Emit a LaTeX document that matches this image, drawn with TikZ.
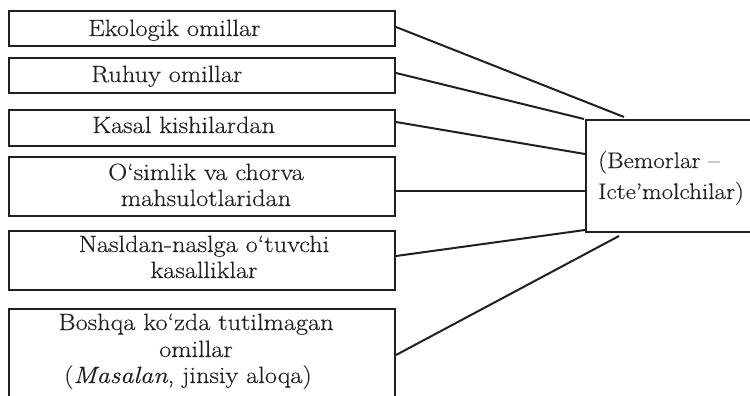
\documentclass[tikz,border=0pt]{standalone}
\usepackage{fontspec}
\setmainfont{Latin Modern Roman}[FakeStretch=1.12, FakeBold=0.4]
\definecolor{ink}{RGB}{35,31,32}
\tikzset{
  box/.style={draw=ink, line width=2pt, rectangle, inner sep=0pt},
  txt/.style={inner sep=0pt, text=ink, font=\fontsize{23.5}{27}\selectfont},
  link/.style={draw=ink, line width=2pt}
}
\begin{document}
\begin{tikzpicture}[x=1pt,y=-1pt]
\useasboundingbox (0,0) rectangle (750,396);
\clip (0,0) rectangle (750,396);

% factor boxes on the left
\node[box, minimum width=386pt, minimum height=35pt]  (b1) at (202,28.5)  {};
\node[box, minimum width=386pt, minimum height=35pt]  (b2) at (202,75.5)  {};
\node[box, minimum width=386pt, minimum height=36pt]  (b3) at (202,128)   {};
\node[box, minimum width=386pt, minimum height=59pt]  (b4) at (202,186.5) {};
\node[box, minimum width=386pt, minimum height=59pt]  (b5) at (202,260.5) {};
\node[box, minimum width=386pt, minimum height=111pt] (b6) at (202,364.5) {};

% target box on the right
\node[box, minimum width=174pt, minimum height=112pt] (r) at (673,176) {};

% labels
\node[txt, anchor=base west] (t1)  at (88,36)   {Ekologik omillar};
\node[txt, anchor=base west] (t2)  at (91,82)   {Ruhuy omillar};
\node[txt, anchor=base west] (t3)  at (92,133)  {Kasal kishilardan};
\node[txt, anchor=base]      (t4a) at (206,180) {O‘simlik va chorva};
\node[txt, anchor=base]      (t4b) at (206,206) {mahsulotlaridan};
\node[txt, anchor=base]      (t5a) at (204,252) {Nasldan-naslga o‘tuvchi};
\node[txt, anchor=base]      (t5b) at (204,278) {kasalliklar};
\node[txt, anchor=base]      (t6a) at (196,330) {Boshqa ko‘zda tutilmagan};
\node[txt, anchor=base]      (t6b) at (196,357) {omillar};
\node[txt, anchor=base]      (t6c) at (188,383) {(\textit{Masalan}, jinsiy aloqa)};
\node[txt, anchor=base west, font=\fontsize{22.5}{27}\selectfont] (ra) at (598,168) {(Bemorlar –};
\node[txt, anchor=base west, font=\fontsize{22.5}{27}\selectfont] (rb) at (598,199) {Icte’molchilar)};

% connectors
\draw[link] ([yshift=1.5pt]b1.east) -- ([xshift=39pt,yshift=2pt]r.north west);
\draw[link] ([yshift=2.5pt]b2.east) -- ([xshift=-1pt]r.north west);
\draw[link] ([yshift=6pt]b3.east)   -- ([yshift=22pt]r.west);
\draw[link] ([yshift=-4.5pt]b4.east) -- ([yshift=-15pt]r.west);
\draw[link] ([yshift=4.5pt]b5.east) -- ([yshift=3pt]r.south west);
\draw[link] ([yshift=9.5pt]b6.east) -- ([xshift=34pt,yshift=-3pt]r.south west);
\end{tikzpicture}
\end{document}
